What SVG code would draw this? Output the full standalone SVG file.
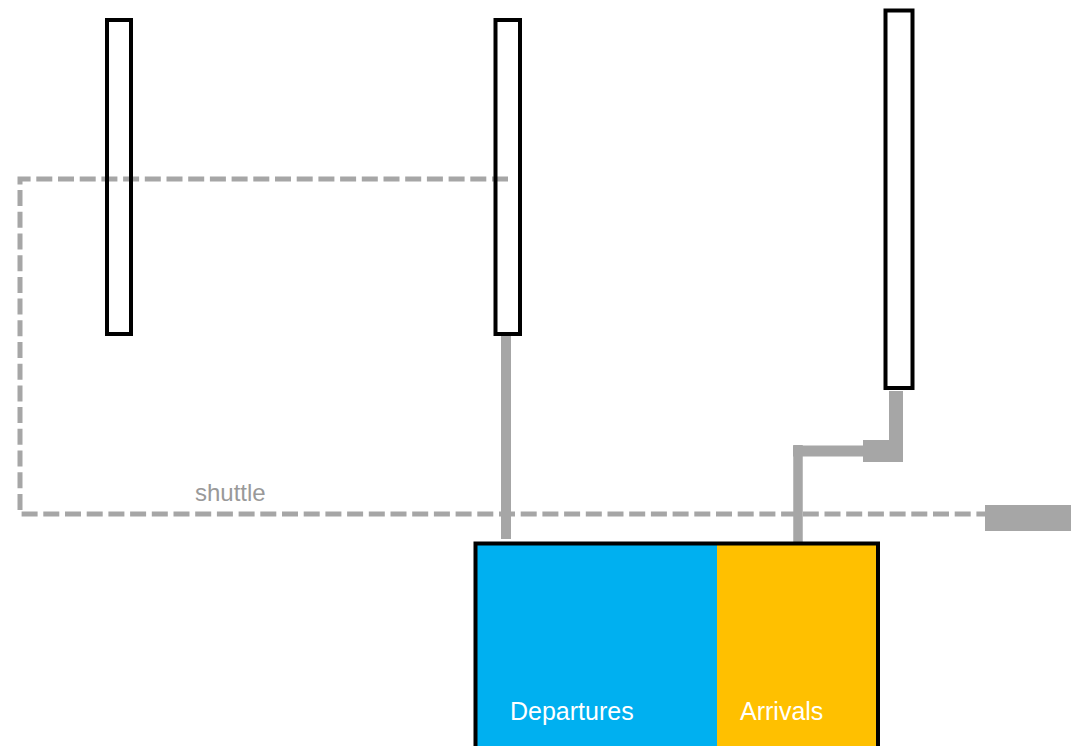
<svg xmlns="http://www.w3.org/2000/svg" width="1071" height="746" viewBox="0 0 1071 746">
<style>
.pillar{fill:none;stroke:#000;stroke-width:4}
.conn{fill:none;stroke:#a6a6a6;stroke-linecap:butt}
.dash{fill:none;stroke:#a6a6a6;stroke-width:5;stroke-dasharray:16 5.7}
.lbl{font-family:"Liberation Sans",Arial,sans-serif;font-size:25px;fill:#fff}
.shl{font-family:"Liberation Sans",Arial,sans-serif;font-size:24px;fill:#999}
</style>
<rect width="1071" height="746" fill="#fff"/>
<g id="connectors">
<path class="dash" d="M508,179 H20 V514 H985"/>
<rect x="985" y="505" width="86" height="26" fill="#a6a6a6"/>
<path class="conn" d="M506,336 V539" stroke-width="10"/>
<path class="conn" d="M896,391 V462" stroke-width="14"/>
<rect x="863" y="440" width="40" height="22" fill="#a6a6a6"/>
<path class="conn" d="M793,451 H864" stroke-width="11"/>
<path class="conn" d="M798,445 V542" stroke-width="9.5"/>
<text class="shl" x="195" y="501">shuttle</text>
</g>
<g id="pillar1"><rect class="pillar" x="107" y="20" width="24" height="314"/></g>
<g id="pillar2"><rect class="pillar" x="495.5" y="20" width="24.5" height="314"/></g>
<g id="pillar3"><rect class="pillar" x="885.5" y="10.5" width="27" height="377.5"/></g>
<g id="terminal">
<rect x="475.5" y="543.5" width="241.5" height="220" fill="#00b0f0"/>
<rect x="717" y="543.5" width="161" height="220" fill="#ffc000"/>
<rect x="475.5" y="543.5" width="402.5" height="220" fill="none" stroke="#000" stroke-width="4"/>
<text class="lbl" x="510" y="720">Departures</text>
<text class="lbl" x="740" y="720">Arrivals</text>
</g>
</svg>
